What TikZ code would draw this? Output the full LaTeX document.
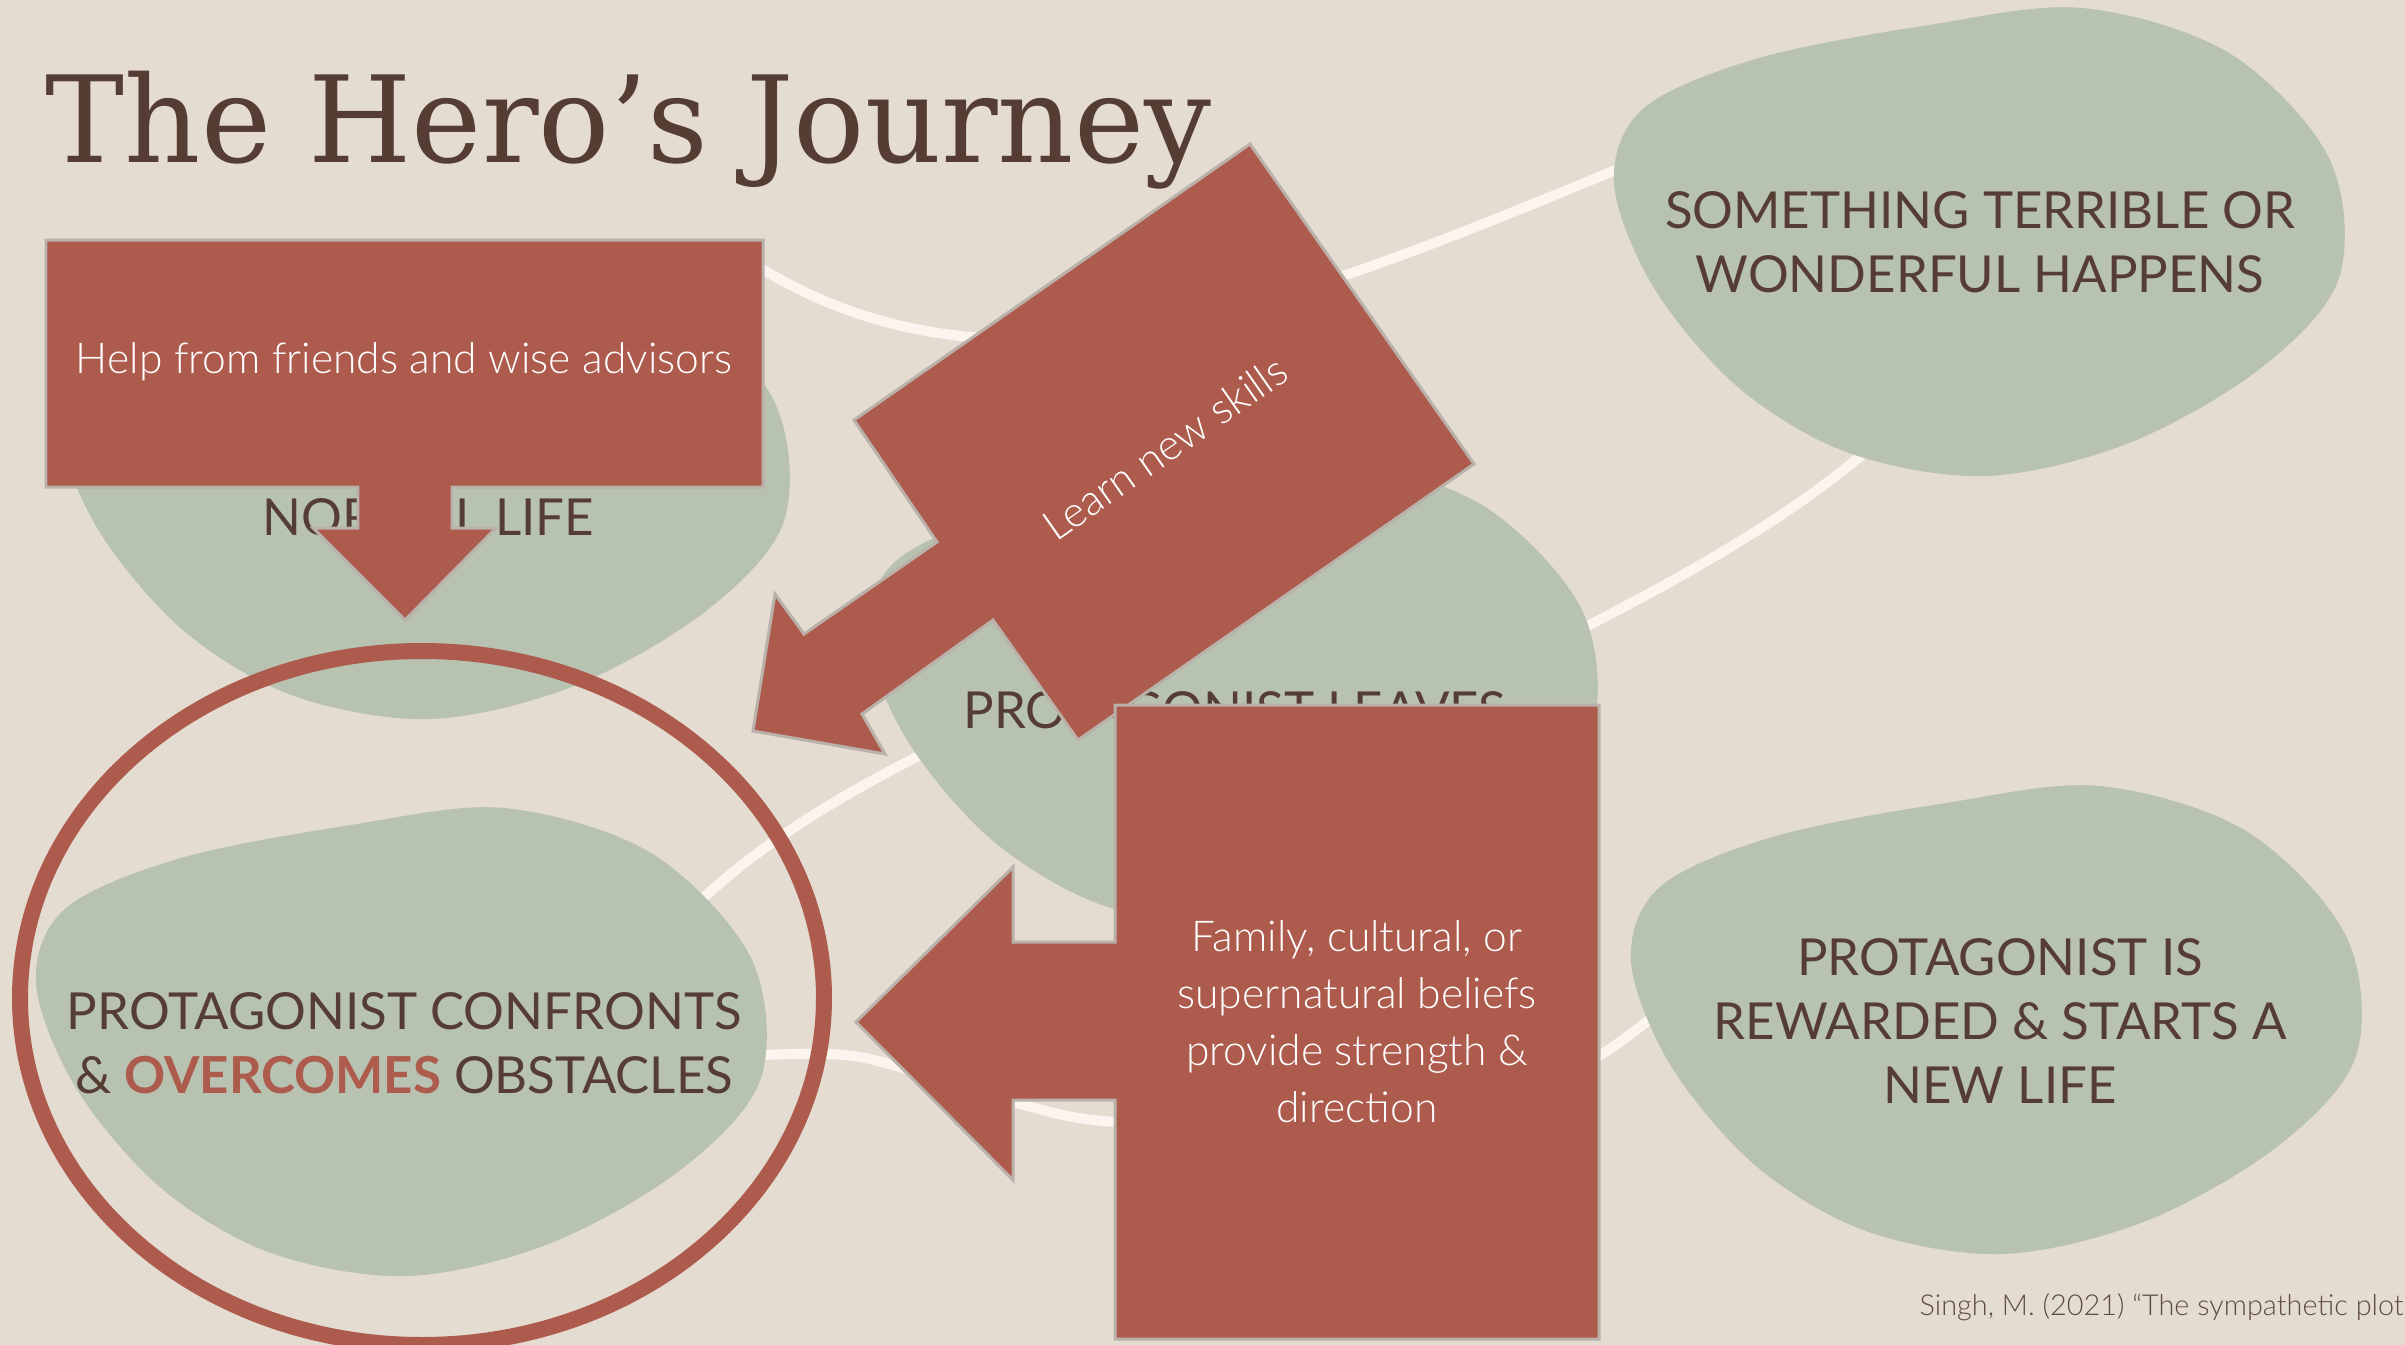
\documentclass[tikz,border=0pt]{standalone}
\usepackage{fontspec}
\setmainfont{Lato}
\newfontfamily\titlefont{DejaVu Serif}
\newfontfamily\lightfont{Lato Light}
\definecolor{bg}{HTML}{E4DBD1}
\definecolor{blobgreen}{HTML}{B8C2B0}
\definecolor{boxred}{HTML}{AD5B4D}
\definecolor{boxedge}{HTML}{B9B1AA}
\definecolor{inkbrown}{HTML}{553D33}
\definecolor{linewhite}{HTML}{FCF5EF}
\definecolor{citegray}{HTML}{5F4B42}

% one organic blob, placed by its top-left corner
\newcommand\drawblob[1]{%
  \begin{scope}[shift={#1}]
    \fill[blobgreen] plot[smooth cycle, tension=0.55] coordinates {
      (473,0) (620,45) (720,150) (730,270) (652,360) (520,435) (377,468)
      (240,445) (130,380) (45,280) (5,175) (35,100) (150,50) (320,17)};
  \end{scope}}

\tikzset{
  conn/.style={draw=linewhite, line width=2.85pt, line cap=round},
  redbox/.style={fill=boxred, draw=boxedge, line width=0.85pt, line join=miter},
  blobtext/.style={text=inkbrown, align=center, inner sep=0pt,
    font=\fontsize{14.5}{18.2}\selectfont},
  notetext/.style={text=white, align=center, inner sep=0pt,
    font=\lightfont\fontsize{12.1}{16.2}\selectfont},
}

\begin{document}
\begin{tikzpicture}[x=0.01cm, y=-0.01cm]
\useasboundingbox (0,0) rectangle (2405,1345);
\fill[bg] (0,0) rectangle (2405,1345);

% connector end points
\coordinate (a1) at (740,255);
\coordinate (a2) at (1640,160);
\coordinate (b1) at (1900,420);
\coordinate (b2) at (1540,650);
\coordinate (c1) at (950,740);
\coordinate (c2) at (680,920);

% connectors between the stages
\draw[conn] (a1) .. controls (1000,430) and (1300,300) .. (a2);
\draw[conn] (b1) .. controls (1820,500) and (1700,570) .. (b2);
\draw[conn] (c1) .. controls (850,790) and (760,840) .. (c2);
\draw[conn] plot[smooth, tension=0.6] coordinates {
  (700,1058) (829,1054) (904,1068) (1020,1104) (1115,1122)
  (1320,1128) (1520,1090) (1599,1056) (1680,995)};

% stage blobs
\drawblob{(1609,8)}
\drawblob{(54,251)}
\drawblob{(862,460)}
\drawblob{(31,808)}
\drawblob{(1626,786)}

% stage labels
\node[blobtext] (terrible) at (1980,242) {SOMETHING TERRIBLE OR\\WONDERFUL HAPPENS};
\node[blobtext] (normal) at (428,517) {NORMAL LIFE};
\node[blobtext] (leaves) at (1235,710) {PROTAGONIST LEAVES};
\node[blobtext] (confronts) at (404,1043)
  {PROTAGONIST CONFRONTS\\\& {\color{boxred}\bfseries OVERCOMES} OBSTACLES};
\node[blobtext] (rewarded) at (2000,1021)
  {PROTAGONIST IS\\REWARDED \& STARTS A\\NEW LIFE};

% highlight ring
\draw[boxred, line width=4.55pt] (422,998) ellipse [x radius=402, y radius=347];

% title
\node[anchor=base west, inner sep=0pt, text=inkbrown,
  font=\titlefont\fontsize{34.2}{40}\selectfont] (title) at (45,162)
  {\scalebox{0.985}[1]{The Hero’s Journey}};

% callout: help from friends
\draw[redbox] (46,240) -- (763,240) -- (763,487) -- (452,487) -- (452,528)
  -- (496,528) -- (405,620) -- (313,528) -- (358,528) -- (358,487)
  -- (46,487) -- cycle;
\node[notetext] (help) at (404,362) {Help from friends and wise advisors};

% callout: learn new skills
\draw[redbox] (1250,144) -- (1474,464) -- (1078,740) -- (993,620) -- (862,714)
  -- (885,754) -- (753,731) -- (775,594) -- (804,634) -- (937,542)
  -- (854,420) -- cycle;
\node[notetext, rotate=35] (learn) at (1165,448) {Learn new skills};

% callout: beliefs
\draw[redbox] (1115,705) -- (1599,705) -- (1599,1339) -- (1115,1339)
  -- (1115,1100) -- (1013,1100) -- (1013,1180) -- (856,1022) -- (1013,867)
  -- (1013,942) -- (1115,942) -- cycle;
\node[notetext] (beliefs) at (1357,1022)
  {Family, cultural, or\\supernatural beliefs\\provide strength \&\\direction};

% citation
\node[anchor=base west, inner sep=0pt, text=citegray,
  font=\lightfont\fontsize{8.2}{10}\selectfont] (cite) at (1919,1315)
  {Singh, M. (2021) “The sympathetic plot};
\end{tikzpicture}
\end{document}
